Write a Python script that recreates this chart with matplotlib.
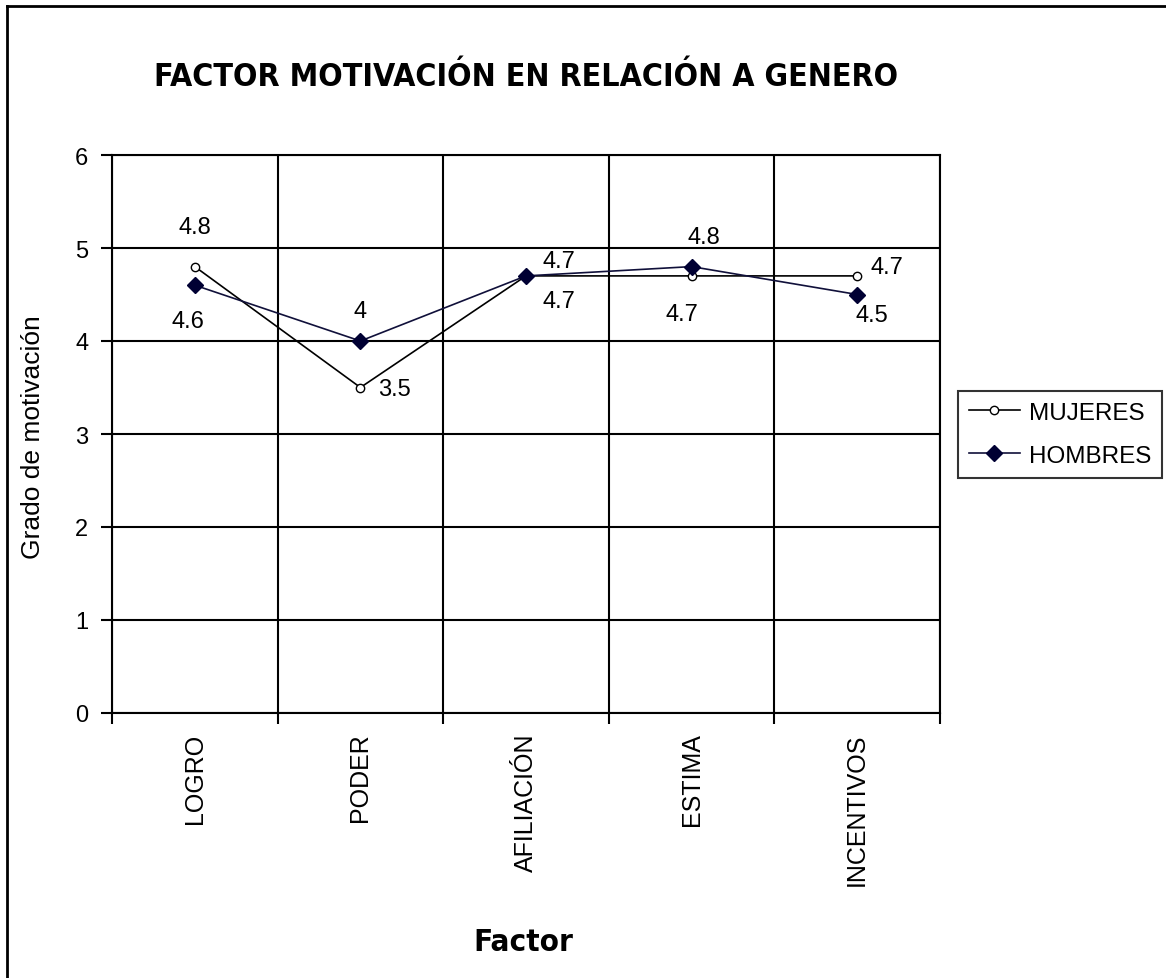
import matplotlib.pyplot as plt
from matplotlib.lines import Line2D
from matplotlib import font_manager as fm

# datos del grafico
factores = ["LOGRO", "PODER", "AFILIACIÓN", "ESTIMA", "INCENTIVOS"]
mujeres = [4.8, 3.5, 4.7, 4.7, 4.7]
hombres = [4.6, 4.0, 4.7, 4.8, 4.5]
y_ticks = [0, 1, 2, 3, 4, 5, 6]

# desplazamiento de las etiquetas de datos (pixeles, y hacia abajo)
off_muj = [(0, -40), (34, 2), (33, 25), (-10, 38), (30, -9)]
off_hom = [(-7, 36), (0, -30), (33, -15), (12, -30), (15, 20)]

W, H = 1166, 979
plt.rcParams["font.family"] = ["Liberation Sans", "DejaVu Sans"]

# fuente estrecha para el titulo si existe alguna
narrow = None
for f in fm.fontManager.ttflist:
    if f.stretch in ("condensed", "semi-condensed", "extra-condensed") or "Narrow" in f.name \
            or "Condensed" in f.name:
        narrow = f
        if f.weight in ("bold", 700):
            break
if narrow is not None:
    title_font = dict(family=narrow.name, stretch=narrow.stretch, weight="bold")
    title_size, factor_size = 23, 22.5
else:
    title_font = dict(family="Liberation Sans", weight="bold")
    title_size, factor_size = 20, 20

fig = plt.figure(figsize=(W / 100, H / 100), dpi=100)
ax = fig.add_axes([112 / W, 1 - 714 / H, 828 / W, 558 / H])

x = list(range(len(factores)))
ax.plot(x, mujeres, color="black", lw=1.2, marker="o", ms=6,
        mfc="white", mec="black", mew=1.0, label="MUJERES", zorder=3)
ax.plot(x, hombres, color="#10103a", lw=1.2, marker="D", ms=8,
        mfc="#000033", mec="#000033", label="HOMBRES", zorder=4)

for xi, v, (dx, dy) in zip(x, mujeres, off_muj):
    ax.annotate(f"{v:g}", (xi, v), xytext=(dx * 0.72, -dy * 0.72),
                textcoords="offset points", ha="center", va="center", fontsize=17)
for xi, v, (dx, dy) in zip(x, hombres, off_hom):
    ax.annotate(f"{v:g}", (xi, v), xytext=(dx * 0.72, -dy * 0.72),
                textcoords="offset points", ha="center", va="center", fontsize=17)

ax.set_xlim(-0.5, len(factores) - 0.5)
ax.set_ylim(0, 6)
ax.set_yticks(y_ticks)
ax.set_xticks(x)
ax.set_xticklabels(factores, rotation=90, va="top", ha="center")
ax.set_xticks([i - 0.5 for i in range(len(factores) + 1)], minor=True)
ax.tick_params(axis="x", which="major", length=0, pad=14, labelsize=18)
ax.tick_params(axis="x", which="minor", length=8, width=1.5, direction="out")
ax.tick_params(axis="y", length=8, width=1.5, direction="out", pad=9, labelsize=17)
ax.grid(True, axis="y", which="major", color="black", lw=1.5)
ax.grid(True, axis="x", which="minor", color="black", lw=1.5)
for s in ax.spines.values():
    s.set_linewidth(1.5)

ax.set_ylabel("Grado de motivación", fontsize=19)
ax.yaxis.set_label_coords(-0.081, 0.496)

fig.text(526 / W, 1 - 77 / H, "FACTOR MOTIVACIÓN EN RELACIÓN A GENERO",
         fontsize=title_size, ha="center", va="center", **title_font)
fig.text(523 / W, 1 - 943 / H, "Factor", fontsize=factor_size,
         ha="center", va="center", **title_font)

leg = ax.legend(loc="upper left", bbox_to_anchor=(958 / W, 1 - 392 / H),
                bbox_transform=fig.transFigure, fontsize=17.5, frameon=True,
                fancybox=False, edgecolor="black", handlelength=2.1,
                borderpad=0.45, labelspacing=0.85, handletextpad=0.36,
                borderaxespad=0)
leg.get_frame().set_linewidth(1.5)

# marco exterior
fig.add_artist(Line2D([7 / W, 7 / W], [0, 1 - 7 / H], color="black", lw=2,
                      transform=fig.transFigure))
fig.add_artist(Line2D([7 / W, 1], [1 - 7 / H, 1 - 7 / H], color="black", lw=2,
                      transform=fig.transFigure))

fig.savefig("out.png", dpi=100)
